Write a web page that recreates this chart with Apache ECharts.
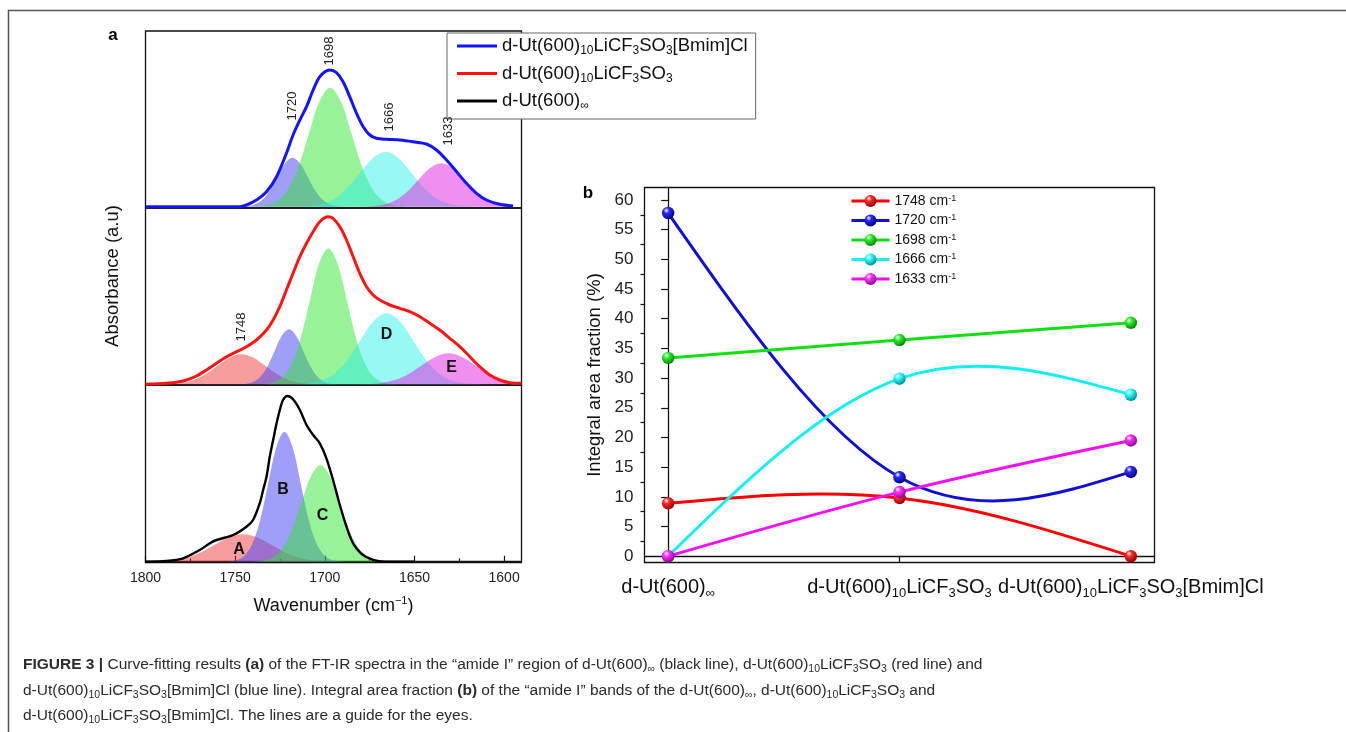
<!DOCTYPE html>
<html><head><meta charset="utf-8">
<script src="https://cdn.jsdelivr.net/npm/echarts@6/dist/echarts.min.js"></script>
<style>html,body{margin:0;padding:0;background:#fff}#c{width:1346px;height:732px}</style>
</head><body><div id="c"></div>
<script>
// ---------- Panel a : FT-IR amide I spectra (heights in arbitrary units) ----------
const wavenumberTicks = [1800, 1750, 1700, 1650, 1600];
const wavenumberMinorTicks = [1775, 1725, 1675, 1625];

// d-Ut(600)10LiCF3SO3[Bmim]Cl (top, blue)
const envBmim = [[1800,0],[1747.4,0],[1743.7,1.7],[1738.1,6.7],[1732.5,15],[1726.9,30],[1721.4,53.4],[1717.7,71.7],[1713.9,86.7],[1710.2,100],[1706.5,116.7],[1702.8,130],[1697.2,136.7],[1693.5,134],[1689.8,125],[1686.1,110],[1682.3,93.4],[1678.6,80],[1674.9,71.7],[1671.2,68.4],[1665.6,67.4],[1658.2,66.7],[1650.8,65],[1643.3,62.7],[1637.7,56.7],[1632.1,46.7],[1626.5,35],[1621,23.4],[1615.4,13.4],[1609.8,6.7],[1602.4,2.4],[1595,0.7]];
const topBand1720 = [[1688.3,0.1],[1692.5,0.5],[1696.8,2.2],[1701,6.6],[1705.3,15.9],[1709.5,29.7],[1713.8,43.2],[1718,49],[1722.3,43.2],[1726.5,29.7],[1730.8,15.9],[1735,6.6],[1739.3,2.2],[1743.5,0.5],[1747.8,0.1]];
const topBand1698 = [[1655,0.3],[1661,1.3],[1667,5.2],[1673,16.1],[1679,38.6],[1685,72.2],[1691,105],[1697,119],[1703,105],[1709,72.2],[1715,38.6],[1721,16.1],[1727,5.2],[1733,1.3],[1739,0.3]];
const topBand1666 = [[1615.3,0.1],[1622.5,0.6],[1629.8,2.4],[1637,7.4],[1644.3,17.9],[1651.5,33.4],[1658.8,48.5],[1666,55],[1673.3,48.5],[1680.5,33.4],[1687.8,17.9],[1695,7.4],[1702.3,2.4],[1709.5,0.6],[1716.8,0.1]];
const topBand1633 = [[1595,0.4],[1602.5,1.9],[1609,5.9],[1615.5,14.1],[1622,26.4],[1628.5,38.4],[1635,43.5],[1641.5,38.4],[1648,26.4],[1654.5,14.1],[1661,5.9],[1667.5,1.9],[1674,0.5],[1680.5,0.1]];

// d-Ut(600)10LiCF3SO3 (middle, red)
const envLi = [[1800,0],[1788.3,1],[1782.7,2],[1777.1,4.3],[1771.6,8.3],[1766,14.3],[1760.4,21],[1754.8,27.6],[1749.2,32.6],[1743.7,37.6],[1738.1,44.3],[1732.5,54.3],[1728.8,64.3],[1725.1,77.6],[1721.4,94.3],[1717.7,111],[1713.9,127.6],[1710.2,141],[1706.5,152.6],[1702.8,162.6],[1698.2,167.6],[1695.4,166],[1691.6,157.6],[1687.9,144.3],[1684.2,127.6],[1680.5,111],[1676.7,97.6],[1673.1,89.3],[1669.3,84.3],[1663.7,79.3],[1658.2,76],[1652.6,72.6],[1647,67.6],[1641.4,61],[1635.9,54.3],[1630.3,46],[1624.7,37.6],[1619.1,27.6],[1613.6,17.6],[1608,9.3],[1602.4,4.3],[1596.8,1.6],[1590.3,1]];
const midBand1748 = [[1699.3,0.1],[1706,0.3],[1712.8,1.3],[1719.5,4.1],[1726.3,9.7],[1733,18.2],[1739.8,26.5],[1746.5,30],[1753.3,26.5],[1760,18.2],[1766.8,9.7],[1773.5,4.1],[1780.3,1.3],[1787,0.3],[1793.8,0.1]];
const midBand1720 = [[1692,0.1],[1696,0.6],[1700,2.4],[1704,7.4],[1708,17.9],[1712,33.4],[1716,48.5],[1720,55],[1724,48.5],[1728,33.4],[1732,17.9],[1736,7.4],[1740,2.4],[1744,0.6],[1748,0.1]];
const midBand1698 = [[1661.3,0.3],[1666.5,1.5],[1671.8,6],[1677,18.4],[1682.3,44.2],[1687.5,82.5],[1692.8,120],[1698,136],[1703.3,120],[1708.5,82.5],[1713.8,44.2],[1719,18.4],[1724.3,6],[1729.5,1.5],[1734.8,0.3]];
const midBand1666 = [[1613,0.2],[1620.5,0.8],[1628,3.1],[1635.5,9.6],[1643,23.1],[1650.5,43.1],[1658,62.7],[1665.5,71],[1673,62.7],[1680.5,43.1],[1688,23.1],[1695.5,9.6],[1703,3.1],[1710.5,0.8],[1718,0.2]];
const midBand1633 = [[1586,0.3],[1593.5,1.4],[1601,4.2],[1608.5,10.1],[1616,18.8],[1623.5,27.4],[1631,31],[1638.5,27.4],[1646,18.8],[1653.5,10.1],[1661,4.2],[1668.5,1.4],[1676,0.3],[1683.5,0.1]];

// d-Ut(600)inf (bottom, black)
const envInf = [[1800,0],[1788.3,0.7],[1779,3.4],[1769.7,11.7],[1764.1,18.4],[1760.4,21.7],[1751.1,26.7],[1743.7,35],[1740,41.7],[1736.3,58.4],[1734.4,71.7],[1732.5,85],[1730.7,105],[1728.8,121.7],[1726.9,138.4],[1725.1,151.7],[1723.3,161.7],[1720.8,165.7],[1717.7,162.4],[1713.9,151.7],[1710.2,136.7],[1706.5,126.7],[1702.8,118.4],[1699.1,103.4],[1695.4,81.7],[1691.6,56.7],[1687.9,35],[1684.2,18.4],[1678.6,6.7],[1671.2,1],[1663.7,0],[1649.8,0]];
const botBandA = [[1689.6,0.1],[1697.6,0.3],[1705.6,1.2],[1713.6,3.7],[1721.6,8.9],[1729.6,16.6],[1737.6,24.2],[1745.6,27.4],[1753.6,24.2],[1761.6,16.6],[1769.6,8.9],[1777.6,3.7],[1785.6,1.2],[1793.6,0.3],[1800,0.1]];
const botBandB = [[1691,0.3],[1695.5,1.4],[1700,5.7],[1704.5,17.6],[1709,42.2],[1713.5,78.8],[1718,114.7],[1722.5,130],[1727,114.7],[1731.5,78.8],[1736,42.2],[1740.5,17.6],[1745,5.7],[1749.5,1.4],[1754,0.3]];
const botBandC = [[1665,0.2],[1670.3,1.1],[1675.7,4.2],[1681,13.1],[1686.4,31.4],[1691.7,58.6],[1697.1,85.3],[1702.4,96.7],[1707.8,85.3],[1713.1,58.6],[1718.5,31.4],[1723.8,13.1],[1729.2,4.2],[1734.5,1.1],[1739.9,0.2]];

// annotation texts: [text, panel, wavenumber, height]
const peakLabels = [['1720',0,1718,100.7],['1698',0,1697.2,155.7],['1666',0,1664.1,89.7],['1633',0,1631.2,75.7],['1748',1,1746.5,57.3]];
const bandLetters = [['D',1,1665.6,49.3],['E',1,1629.3,16.6],['A',2,1747.8,11.7],['B',2,1723.3,71.7],['C',2,1701.3,45.7]];

// ---------- Panel b : integral area fraction (%) ----------
const sampleNames = ['d-Ut(600){sub|∞}', 'd-Ut(600){sub|10}LiCF{sub|3}SO{sub|3}', 'd-Ut(600){sub|10}LiCF{sub|3}SO{sub|3}[Bmim]Cl'];
const fractionTicks = [0,5,10,15,20,25,30,35,40,45,50,55,60];
const fractionMinorTicks = [2.5,7.5,12.5,17.5,22.5,27.5,32.5,37.5,42.5,47.5,52.5,57.5];
const bandNames = ['1748 cm-1','1720 cm-1','1698 cm-1','1666 cm-1','1633 cm-1'];
const frac1748 = [8.9, 9.8, 0];
const frac1720 = [57.8, 13.3, 14.2];
const frac1698 = [33.4, 36.4, 39.3];
const frac1666 = [0, 29.9, 27.2];
const frac1633 = [0, 10.8, 19.5];

// ---------- build ----------
const FONT = '"Liberation Sans", Arial, Helvetica, sans-serif';
const INK = '#111';
const chart = echarts.init(document.getElementById('c'));

const specNames = ['d-Ut(600)10LiCF3SO3[Bmim]Cl', 'd-Ut(600)10LiCF3SO3', 'd-Ut(600)∞'];
const specRich = {
  'd-Ut(600)10LiCF3SO3[Bmim]Cl': 'd-Ut(600){sub|10}LiCF{sub|3}SO{sub|3}[Bmim]Cl',
  'd-Ut(600)10LiCF3SO3': 'd-Ut(600){sub|10}LiCF{sub|3}SO{sub|3}',
  'd-Ut(600)∞': 'd-Ut(600){sub|∞}'
};

const FILL = {
  red: 'rgba(240,50,50,0.48)', blue: 'rgba(70,70,245,0.52)', green: 'rgba(50,230,50,0.5)',
  cyan: 'rgba(40,240,230,0.48)', magenta: 'rgba(225,40,225,0.52)'
};

const xMin = 1590.3, xMax = 1800;
const grids = [
  {left:145.5, top:31, width:376, height:177},
  {left:145.5, top:208, width:376, height:177},
  {left:145.5, top:385, width:376, height:177.5},
  {left:644.5, top:187.5, width:510, height:375}
].map(g => Object.assign(g, {show:true, borderColor:INK, borderWidth:1.3, backgroundColor:'transparent', containLabel:false, outerBoundsMode:'none'}));

function hiddenX(gi){ return {gridIndex:gi, type:'value', min:xMin, max:xMax, inverse:true, show:false}; }
function hiddenY(gi, min, max){ return {gridIndex:gi, type:'value', min, max, show:false}; }

const xAxis = [
  hiddenX(0), hiddenX(1),
  {gridIndex:2, type:'value', min:xMin, max:xMax, inverse:true, position:'bottom',
   axisLine:{show:true, lineStyle:{color:INK, width:1.3}},
   axisTick:{show:true, inside:true, length:6, customValues:wavenumberTicks, lineStyle:{color:INK, width:1.2}},
   axisLabel:{show:true, customValues:wavenumberTicks, fontSize:14, color:'#222', margin:9, fontFamily:FONT, formatter: v => String(v)},
   splitLine:{show:false},
   name:'Wavenumber (cm{sup|−1})', nameLocation:'middle', nameGap:33,
   nameTextStyle:{fontSize:18, color:INK, fontFamily:FONT, lineHeight:22, rich:{sup:{fontSize:11, lineHeight:11, verticalAlign:'top', fontFamily:FONT, color:INK}}}},
  {gridIndex:2, type:'value', min:xMin, max:xMax, inverse:true, position:'bottom',
   axisLine:{show:false}, axisLabel:{show:false}, splitLine:{show:false},
   axisTick:{show:true, inside:true, length:4, customValues:wavenumberMinorTicks, lineStyle:{color:INK, width:1.2}}},
  {gridIndex:3, type:'value', min:-0.1023, max:2.1023, position:'bottom',
   axisLine:{show:true, lineStyle:{color:INK, width:1.3}},
   axisTick:{show:true, inside:false, length:6, customValues:[0,1,2], lineStyle:{color:INK, width:1.3}},
   axisLabel:{show:true, customValues:[0,1,2], margin:12, fontSize:20, lineHeight:25, color:INK, fontFamily:FONT,
     formatter: v => sampleNames[Math.round(v)],
     rich:{sub:{fontSize:13, lineHeight:13, verticalAlign:'bottom', fontFamily:FONT, color:INK}}},
   splitLine:{show:false}}
];
const yAxis = [
  hiddenY(0, -1.3, 175.7), hiddenY(1, -0.7, 176.3), hiddenY(2, -0.8, 176.7),
  {gridIndex:3, type:'value', min:-1.06, max:62.1, position:'left',
   axisLine:{show:true, lineStyle:{color:INK, width:1.3}},
   axisTick:{show:true, inside:false, length:7, customValues:fractionTicks, lineStyle:{color:INK, width:1.2}},
   axisLabel:{show:true, customValues:fractionTicks, fontSize:17, color:'#222', margin:11, fontFamily:FONT},
   splitLine:{show:false},
   name:'Integral area fraction (%)', nameLocation:'middle', nameGap:40, nameRotate:90,
   nameTextStyle:{fontSize:18.5, color:INK, fontFamily:FONT}},
  {gridIndex:3, type:'value', min:-1.06, max:62.1, position:'left',
   axisLine:{show:false}, axisLabel:{show:false}, splitLine:{show:false},
   axisTick:{show:true, inside:false, length:4, customValues:fractionMinorTicks, lineStyle:{color:INK, width:1.2}}}
];

function band(data, gi, color){
  return {type:'line', xAxisIndex:gi, yAxisIndex:gi, data, smooth:0.35, symbol:'none', silent:true,
    lineStyle:{width:0, opacity:0}, areaStyle:{color, opacity:1, origin:0}, z:2};
}
function envelope(name, data, gi, color, width){
  return {name, type:'line', xAxisIndex:gi, yAxisIndex:gi, data, smooth:0.3, symbol:'none', silent:true,
    lineStyle:{color, width}, itemStyle:{color}, z:5};
}
function ball(c, dark){
  return {type:'radial', x:0.36, y:0.3, r:0.75, colorStops:[{offset:0,color:'#ffffff'},{offset:0.3,color:c},{offset:1,color:dark}]};
}
// natural cubic spline slopes for equally spaced points (guide-for-the-eye lines)
function splineSlopes(ys){
  const n = ys.length, M = new Array(n).fill(0);
  if (n > 2) {
    const m = n - 2, cp = [], dp = [];
    for (let k = 0; k < m; k++) {
      const i = k + 1, d = 6 * (ys[i-1] - 2*ys[i] + ys[i+1]);
      if (k === 0) { cp[k] = 1/4; dp[k] = d/4; }
      else { const den = 4 - cp[k-1]; cp[k] = 1/den; dp[k] = (d - dp[k-1]) / den; }
    }
    const x = new Array(m); x[m-1] = dp[m-1];
    for (let k = m-2; k >= 0; k--) x[k] = dp[k] - cp[k]*x[k+1];
    for (let k = 0; k < m; k++) M[k+1] = x[k];
  }
  return ys.map((y, i) => i < n-1 ? (ys[i+1]-y) - (2*M[i]+M[i+1])/6 : (y-ys[i-1]) + (M[i-1]+2*M[i])/6);
}
function guideLine(vals, color){
  const D = splineSlopes(vals);
  return {type:'custom', xAxisIndex:4, yAxisIndex:3, data: vals.map((v,i)=>[i,v]), silent:true, z:8,
    encode:{x:0, y:1},
    renderItem(params, api){
      if (params.dataIndex !== 0) return null;
      const children = [];
      for (let i = 0; i < vals.length - 1; i++) {
        const p0 = api.coord([i, vals[i]]), p1 = api.coord([i+1, vals[i+1]]);
        const c1 = api.coord([i + 1/3, vals[i] + D[i]/3]), c2 = api.coord([i + 2/3, vals[i+1] - D[i+1]/3]);
        children.push({type:'bezierCurve', shape:{x1:p0[0], y1:p0[1], x2:p1[0], y2:p1[1], cpx1:c1[0], cpy1:c1[1], cpx2:c2[0], cpy2:c2[1]},
          style:{stroke:color, lineWidth:3, fill:null}});
      }
      return {type:'group', children};
    }};
}
function fraction(name, vals, line, c, dark){
  return {name, type:'line', xAxisIndex:4, yAxisIndex:3, data: vals.map((v,i)=>[i,v]),
    symbol:'circle', symbolSize:12.5, showAllSymbol:true, lineStyle:{color:line, width:3, opacity:0}, itemStyle:{color:ball(c,dark)}, z:10};
}

const fracSets = [
  [bandNames[0], frac1748, '#ff0000', '#ff2a2a', '#8a0000'],
  [bandNames[1], frac1720, '#1010d0', '#2a2aff', '#000070'],
  [bandNames[2], frac1698, '#10e010', '#30f030', '#007a00'],
  [bandNames[3], frac1666, '#10f0f0', '#30ffff', '#008585'],
  [bandNames[4], frac1633, '#f010f0', '#ff30ff', '#8a008a']
];

const series = [
  band(topBand1720, 0, FILL.blue), band(topBand1698, 0, FILL.green), band(topBand1666, 0, FILL.cyan), band(topBand1633, 0, FILL.magenta),
  envelope(specNames[0], envBmim, 0, '#1414ff', 3),
  band(midBand1748, 1, FILL.red), band(midBand1720, 1, FILL.blue), band(midBand1698, 1, FILL.green), band(midBand1666, 1, FILL.cyan), band(midBand1633, 1, FILL.magenta),
  envelope(specNames[1], envLi, 1, '#ff1414', 3),
  band(botBandA, 2, FILL.red), band(botBandB, 2, FILL.blue), band(botBandC, 2, FILL.green),
  envelope(specNames[2], envInf, 2, '#000000', 2.4)
];
fracSets.forEach(s => series.push(guideLine(s[1], s[2])));
fracSets.forEach(s => series.push(fraction(...s)));

const option = {
  backgroundColor:'#ffffff',
  animation:false,
  textStyle:{fontFamily:FONT},
  grid:grids, xAxis, yAxis, series,
  legend:[
    {data:specNames, orient:'vertical', left:447, top:33, icon:'rect', itemWidth:40, itemHeight:3, itemGap:5.5,
     padding:[2,8,7,10], borderColor:'#666', borderWidth:1, backgroundColor:'#ffffff', selectedMode:false,
     formatter: n => specRich[n],
     textStyle:{fontSize:18.5, lineHeight:22, color:INK, fontFamily:FONT,
       rich:{sub:{fontSize:12, lineHeight:12, verticalAlign:'bottom', fontFamily:FONT, color:INK}}}},
    {data:bandNames, orient:'vertical', left:850, top:194, itemWidth:38, itemHeight:15, itemGap:5.5, padding:0, selectedMode:false,
     lineStyle:{width:3, opacity:1},
     formatter: n => n.replace('cm-1','cm{sup|-1}'),
     textStyle:{fontSize:14, lineHeight:14, color:INK, fontFamily:FONT,
       rich:{sup:{fontSize:9, lineHeight:9, verticalAlign:'top', fontFamily:FONT, color:INK}}}}
  ]
};
chart.setOption(option);

// ---------- texts placed through the axes ----------
const g = [];
g.push({type:'rect', shape:{x:8.5, y:10.5, width:1400, height:800}, style:{fill:'none', stroke:'#555', lineWidth:1.5}, z:0, silent:true});
peakLabels.forEach(([t, gi, w, h]) => {
  const p = chart.convertToPixel({xAxisIndex:gi, yAxisIndex:gi}, [w, h]);
  g.push({type:'text', x:p[0], y:p[1], rotation:Math.PI/2, z:20, silent:true,
    style:{text:t, fontSize:13, fontFamily:FONT, fill:'#222', align:'center', verticalAlign:'middle'}});
});
bandLetters.forEach(([t, gi, w, h]) => {
  const p = chart.convertToPixel({xAxisIndex:gi, yAxisIndex:gi}, [w, h]);
  g.push({type:'text', x:p[0], y:p[1], z:20, silent:true,
    style:{text:t, fontSize:16, fontWeight:'bold', fontFamily:FONT, fill:'#111', align:'center', verticalAlign:'middle'}});
});
g.push({type:'text', x:113, y:35, z:20, style:{text:'a', fontSize:17, fontWeight:'bold', fontFamily:FONT, fill:'#000', align:'center', verticalAlign:'middle'}});
g.push({type:'text', x:588, y:193, z:20, style:{text:'b', fontSize:17, fontWeight:'bold', fontFamily:FONT, fill:'#000', align:'center', verticalAlign:'middle'}});
g.push({type:'text', x:113, y:276, rotation:Math.PI/2, z:20, style:{text:'Absorbance (a.u)', fontSize:18.5, fontFamily:FONT, fill:INK, align:'center', verticalAlign:'middle'}});

const CAP = 15.5;
const capRich = {
  b:{fontWeight:'bold', fontSize:CAP, fontFamily:FONT, fill:'#2b2b2b', lineHeight:20},
  s:{fontSize:10.5, lineHeight:10, verticalAlign:'bottom', fontFamily:FONT, fill:'#2b2b2b'}
};
const captionLines = [
  '{b|FIGURE 3 |} Curve-fitting results {b|(a)} of the FT-IR spectra in the “amide I” region of d-Ut(600){s|∞} (black line), d-Ut(600){s|10}LiCF{s|3}SO{s|3} (red line) and',
  'd-Ut(600){s|10}LiCF{s|3}SO{s|3}[Bmim]Cl (blue line). Integral area fraction {b|(b)} of the “amide I” bands of the d-Ut(600){s|∞}, d-Ut(600){s|10}LiCF{s|3}SO{s|3} and',
  'd-Ut(600){s|10}LiCF{s|3}SO{s|3}[Bmim]Cl. The lines are a guide for the eyes.'
];
const captionY = [665, 690.5, 716];
captionLines.forEach((t, i) => {
  g.push({type:'text', x:23, y:captionY[i], z:20, silent:true,
    style:{text:t, rich:capRich, fontSize:CAP, lineHeight:20, fontFamily:FONT, fill:'#2b2b2b', align:'left', verticalAlign:'middle'}});
});
chart.setOption({graphic:g});
</script>
</body></html>
